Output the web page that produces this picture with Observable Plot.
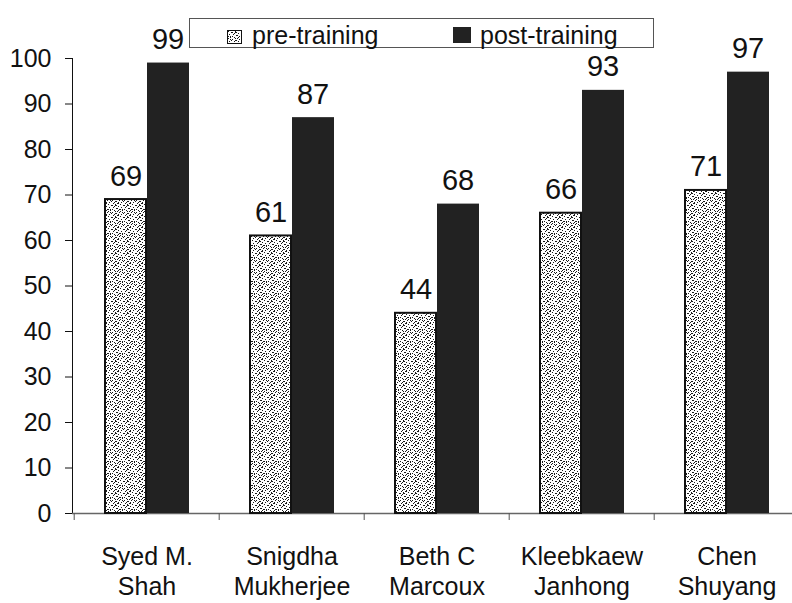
<!DOCTYPE html>
<html>
<head>
<meta charset="utf-8">
<script src="https://cdn.jsdelivr.net/npm/d3@7"></script>
<script src="https://cdn.jsdelivr.net/npm/@observablehq/plot@0.6"></script>
<style>
  body { margin: 0; background: #fff; overflow: hidden; font-family: "Liberation Sans", Arial, sans-serif; }
  #wrap { position: relative; width: 792px; height: 603px; }
  .legend { position: absolute; left: 189px; top: 18px; width: 463px; height: 28px;
            border: 1px solid #555; font-size: 25px; color: #111; background: #fff; }
  .legend .sw { position: absolute; box-sizing: border-box; }
  .legend .lab { position: absolute; line-height: 25px; white-space: nowrap; }
</style>
</head>
<body>
<!-- shared fill texture for the pre-training bars -->
<svg width="0" height="0" style="position:absolute">
  <defs>
    <pattern id="stipple" width="12" height="12" patternUnits="userSpaceOnUse">
      <rect width="12" height="12" fill="#fff"/>
      <g fill="#1a1a1a">
        <rect x="0" y="0" width="1" height="1"/><rect x="3" y="1" width="2" height="1"/>
        <rect x="7" y="0" width="1" height="2"/><rect x="10" y="2" width="1" height="1"/>
        <rect x="1" y="3" width="1" height="1"/><rect x="5" y="3" width="1" height="1"/>
        <rect x="8" y="4" width="2" height="1"/><rect x="2" y="5" width="1" height="2"/>
        <rect x="11" y="5" width="1" height="1"/><rect x="6" y="6" width="1" height="1"/>
        <rect x="0" y="7" width="1" height="1"/><rect x="9" y="7" width="1" height="1"/>
        <rect x="4" y="8" width="1" height="1"/><rect x="7" y="9" width="2" height="1"/>
        <rect x="1" y="10" width="1" height="1"/><rect x="10" y="10" width="1" height="2"/>
        <rect x="5" y="11" width="1" height="1"/><rect x="3" y="9" width="1" height="1"/>
        <rect x="11" y="8" width="1" height="1"/><rect x="6" y="2" width="1" height="1"/>
        <rect x="4" y="5" width="1" height="1"/><rect x="8" y="1" width="1" height="1"/>
        <rect x="2" y="8" width="1" height="1"/><rect x="9" y="11" width="1" height="1"/>
        <rect x="0" y="5" width="1" height="1"/><rect x="6" y="10" width="1" height="1"/>
        <rect x="10" y="6" width="1" height="1"/><rect x="7" y="7" width="1" height="1"/>
      </g>
    </pattern>
  </defs>
</svg>
<div id="wrap">
  <div class="legend">
    <div class="sw" style="left:37px;top:11px;width:15px;height:14px;border:1.5px solid #111;">
      <svg width="12" height="11" style="display:block"><rect width="12" height="11" fill="url(#stipple)"/></svg>
    </div>
    <div class="lab" style="left:62px;top:4px;">pre-training</div>
    <div class="sw" style="left:263px;top:8px;width:18px;height:16px;background:#222;"></div>
    <div class="lab" style="left:290px;top:4px;">post-training</div>
  </div>
</div>
<script>
// Trainee names (two-line axis labels) and test scores
const trainees = ["Syed M.\nShah", "Snigdha\nMukherjee", "Beth C\nMarcoux", "Kleebkaew\nJanhong", "Chen\nShuyang"];
const preTraining = [69, 61, 44, 66, 71];
const postTraining = [99, 87, 68, 93, 97];
const yTicks = [0, 10, 20, 30, 40, 50, 60, 70, 80, 90, 100];

const preRows = trainees.map((name, i) => ({name, value: preTraining[i]}));
const postRows = trainees.map((name, i) => ({name, value: postTraining[i]}));

const chart = Plot.plot({
  width: 792,
  height: 603,
  marginTop: 58,
  marginBottom: 90,
  marginLeft: 72,
  marginRight: 0,
  style: {fontFamily: "'Liberation Sans', Arial, sans-serif", fontSize: "25px", color: "#111", background: "transparent"},
  x: {domain: trainees, range: [72, 800], padding: 0},
  y: {domain: [0, 100], ticks: yTicks, tickSize: 7, tickPadding: 14, line: true, label: null},
  marks: [
    Plot.ruleY([0], {stroke: "#666", strokeWidth: 1.5}),
    Plot.barY(preRows, {x: "name", y: "value", fill: "url(#stipple)", stroke: "#111", strokeWidth: 2, insetLeft: 31, insetRight: 73}),
    Plot.barY(postRows, {x: "name", y: "value", fill: "#222", insetLeft: 73, insetRight: 30}),
    Plot.text(preRows, {x: "name", y: "value", text: d => String(d.value), dx: -21, dy: -14, lineAnchor: "bottom", fontSize: 29, fill: "#111"}),
    Plot.text(postRows, {x: "name", y: "value", text: d => String(d.value), dx: 21, dy: -14, lineAnchor: "bottom", fontSize: 29, fill: "#111"}),
    // category boundary ticks along the bottom axis
    Plot.axisX({tickSize: 7, tickFormat: () => "", dx: -72.8, stroke: "#555", label: null}),
    // two-line trainee labels
    Plot.axisX({tickSize: 0, tickPadding: 30, fontSize: 25, lineHeight: 1.2, label: null, fill: "#111"})
  ]
});

document.getElementById("wrap").appendChild(chart);
chart.style.position = "absolute";
chart.style.left = "0";
chart.style.top = "0";
// keep the legend above the chart
document.querySelector(".legend").style.zIndex = "2";
</script>
</body>
</html>
